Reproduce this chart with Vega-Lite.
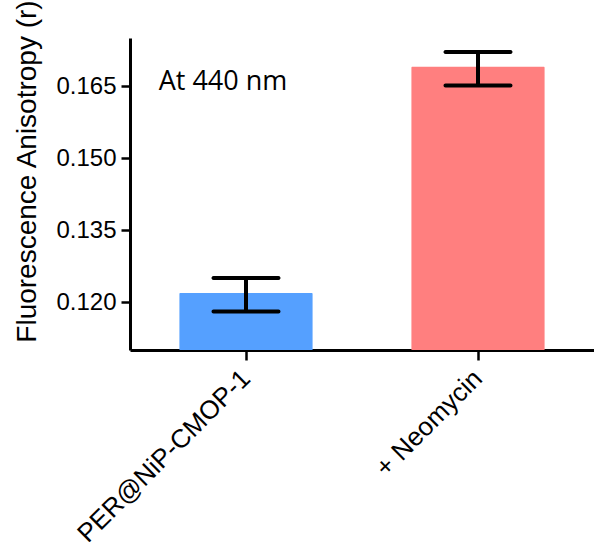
{
  "$schema": "https://vega.github.io/schema/vega-lite/v6.json",
  "autosize": "none",
  "width": 464,
  "height": 312,
  "padding": {"left": 130, "top": 38, "right": 0, "bottom": 192},
  "background": "white",
  "config": {
    "view": {"stroke": null},
    "font": "Liberation Sans",
    "axis": {"grid": false, "domainColor": "black", "tickColor": "black", "labelColor": "black", "titleColor": "black", "labelFont": "Liberation Sans", "titleFont": "Liberation Sans", "titleFontWeight": "normal"}
  },
  "data": {
    "values": [
      {"group": "PER@NiP-CMOP-1", "value": 0.1219, "low": 0.1180, "high": 0.1250},
      {"group": "+ Neomycin", "value": 0.1690, "low": 0.1651, "high": 0.1721}
    ]
  },
  "encoding": {
    "x": {
      "field": "group", "type": "nominal", "sort": null,
      "scale": {"paddingInner": 0.426, "paddingOuter": 0.213},
      "axis": {"title": null, "labelAngle": -45, "labelAlign": "right", "labelBaseline": "middle", "labelFontSize": 26, "labelPadding": 14, "labelLimit": 0, "tickSize": 10, "tickWidth": 2.5, "domainWidth": 3}
    }
  },
  "layer": [
    {
      "mark": {"type": "bar", "cornerRadiusTopLeft": 1, "cornerRadiusTopRight": 1},
      "encoding": {
        "y": {
          "field": "value", "type": "quantitative",
          "scale": {"domain": [0.110, 0.175], "nice": false, "zero": false},
          "axis": {
            "title": "Fluorescence Anisotropy (r)", "titleFontSize": 28, "titleAngle": -90, "titleAlign": "center", "titleBaseline": "alphabetic", "titleX": -95, "titleY": 133,
            "values": [0.12, 0.135, 0.15, 0.165], "format": ".3f", "labelFontSize": 24, "labelPadding": 5, "tickSize": 9, "tickWidth": 2.5, "domainWidth": 3
          }
        },
        "y2": {"datum": 0.110},
        "color": {"field": "group", "type": "nominal", "scale": {"domain": ["PER@NiP-CMOP-1", "+ Neomycin"], "range": ["#55A0FF", "#FF7F7F"]}, "legend": null}
      }
    },
    {
      "mark": {"type": "rule", "strokeWidth": 4, "color": "black"},
      "encoding": {
        "y": {"field": "low", "type": "quantitative"},
        "y2": {"field": "high"}
      }
    },
    {
      "mark": {"type": "tick", "orient": "horizontal", "size": 69, "thickness": 4, "color": "black", "cornerRadius": 2, "opacity": 1},
      "encoding": {"y": {"field": "low", "type": "quantitative"}}
    },
    {
      "mark": {"type": "tick", "orient": "horizontal", "size": 69, "thickness": 4, "color": "black", "cornerRadius": 2, "opacity": 1},
      "encoding": {"y": {"field": "high", "type": "quantitative"}}
    },
    {
      "data": {"values": [{"group": "PER@NiP-CMOP-1", "y": 0.1641, "label": "At 440 nm"}]},
      "mark": {"type": "text", "font": "Open Sans", "fontSize": 27, "align": "center", "baseline": "alphabetic", "dx": -23, "color": "black"},
      "encoding": {
        "y": {"field": "y", "type": "quantitative"},
        "text": {"field": "label"}
      }
    }
  ]
}
